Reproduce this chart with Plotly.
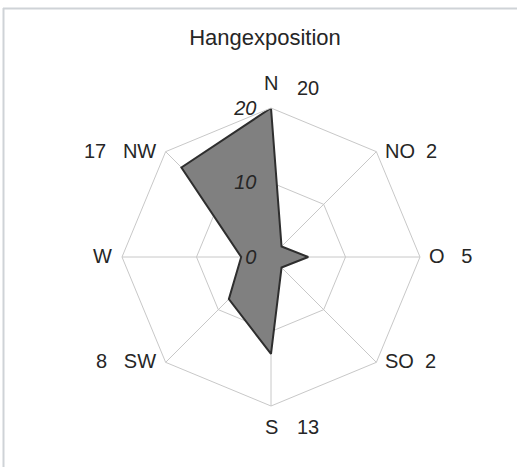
import math
import plotly.graph_objects as go

# Data
directions = ["N", "NO", "O", "SO", "S", "SW", "W", "NW"]
values = [20, 2, 5, 2, 13, 8, 4, 17]
value_labels = ["20", "2", "5", "2", "13", "8", "", "17"]
label_gaps = [0, 2, 3, 2, 0, 3, 0, 3]
radial_ticks = [0, 10, 20]
title_text = "Hangexposition"

NB = "\u00a0"
FONT = "Liberation Sans, Arial, sans-serif"
TXT = "#262626"
GRID = "#c8c8c8"
W, H = 517, 467

# polar area in pixels
X0, X1, Y0, Y1 = 122, 420, 108, 406
CX, CY, R = (X0 + X1) / 2, (Y0 + Y1) / 2, (X1 - X0) / 2


def px(x):
    return x / W


def py(y):
    return 1 - y / H


fig = go.Figure()
fig.add_trace(go.Scatterpolar(
    r=values + values[:1],
    theta=directions + directions[:1],
    mode="lines",
    fill="toself",
    fillcolor="#808080",
    line=dict(color="#2e2e2e", width=2),
    hoverinfo="skip",
))

annotations = []
for i, (d, v) in enumerate(zip(directions, value_labels)):
    ang = math.radians(90 - 45 * i)
    c, s = math.cos(ang), math.sin(ang)
    vx, vy = CX + R * c, CY - R * s
    if abs(c) < 0.1:
        ny = vy - 25 if s > 0 else vy + 21
        annotations.append(dict(text=d, x=px(vx), y=py(ny), xanchor="center", yanchor="middle"))
        if v:
            ly = vy - 20 if s > 0 else ny
            annotations.append(dict(text=v, x=px(vx + 24), y=py(ly), xanchor="left", yanchor="middle"))
    elif c > 0:
        txt = d + (NB * label_gaps[i] + v if v else "")
        annotations.append(dict(text=txt, x=px(vx + 7), y=py(vy - 1), xanchor="left", yanchor="middle"))
    else:
        txt = (v + NB * label_gaps[i] if v else "") + d
        annotations.append(dict(text=txt, x=px(vx - 8), y=py(vy - 1), xanchor="right", yanchor="middle"))

for a in annotations:
    a.update(xref="paper", yref="paper", showarrow=False,
             font=dict(family=FONT, size=20, color=TXT))

fig.update_layout(
    width=W,
    height=H,
    margin=dict(l=0, r=0, t=0, b=0),
    paper_bgcolor="white",
    plot_bgcolor="white",
    showlegend=False,
    font=dict(family=FONT, size=20, color=TXT),
    title=dict(text=title_text, x=px(265), y=py(37), xanchor="center", yanchor="middle",
               font=dict(family=FONT, size=22, color=TXT)),
    polar=dict(
        domain=dict(x=[px(X0), px(X1)], y=[py(Y1), py(Y0)]),
        bgcolor="white",
        gridshape="linear",
        radialaxis=dict(
            range=[0, 20],
            tickvals=radial_ticks,
            ticktext=[str(t) + NB * 2 for t in radial_ticks],
            angle=90,
            tickangle=90,
            side="counterclockwise",
            showline=False,
            showgrid=True,
            gridcolor=GRID,
            gridwidth=1,
            ticks="",
            tickfont=dict(family=FONT, size=20, color=TXT, style="italic"),
            layer="above traces",
        ),
        angularaxis=dict(
            type="category",
            categoryarray=directions,
            direction="clockwise",
            rotation=90,
            showline=True,
            linecolor=GRID,
            linewidth=1,
            showgrid=True,
            gridcolor=GRID,
            gridwidth=1,
            ticks="",
            showticklabels=False,
            layer="above traces",
        ),
    ),
    annotations=annotations,
    shapes=[
        dict(type="line", xref="paper", yref="paper", x0=px(3), x1=1, y0=py(8.5), y1=py(8.5),
             line=dict(color="#cfd3d7", width=2)),
        dict(type="line", xref="paper", yref="paper", x0=px(3.5), x1=px(3.5), y0=0, y1=py(8),
             line=dict(color="#cfd3d7", width=2)),
    ],
)

fig.write_html("out.html", config={"displayModeBar": False},
               post_script="document.body.style.margin='0';")
